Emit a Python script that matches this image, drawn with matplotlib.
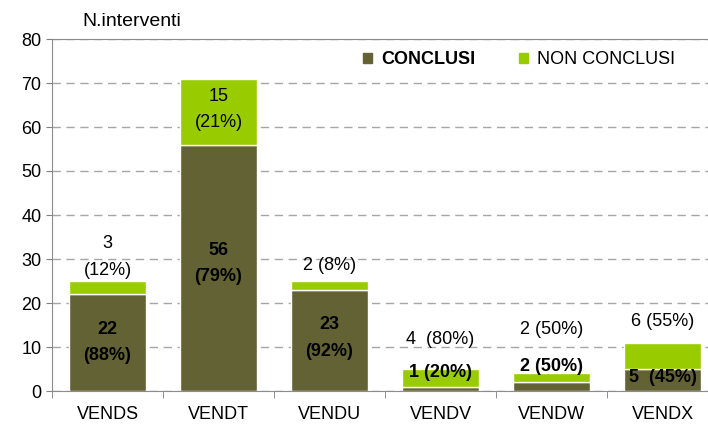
import numpy as np
import matplotlib.pyplot as plt
from matplotlib.patches import Patch

plt.rcParams['font.family'] = ['Liberation Sans', 'DejaVu Sans']

categories = ['VENDS', 'VENDT', 'VENDU', 'VENDV', 'VENDW', 'VENDX']
conclusi = [22, 56, 23, 1, 2, 5]
non_conclusi = [3, 15, 2, 4, 2, 6]

# label texts and the y where they sit
lab_conc = ['22\n(88%)', '56\n(79%)', '23\n(92%)', '1 (20%)', '2 (50%)', '5  (45%)']
lab_conc_y = [11, 29, 12, 4.1, 5.5, 3]
lab_non = ['3\n(12%)', '15\n(21%)', '2 (8%)', '4  (80%)', '2 (50%)', '6 (55%)']
lab_non_y = [30.5, 64, 28.6, 11.6, 13.9, 15.7]

dark = '#636234'
light = '#99cc00'
fs = 13

fig = plt.figure(figsize=(7.08, 4.26), dpi=100)
ax = fig.add_axes([52 / 708, 35 / 426, 666 / 708, 352 / 426])

x = np.arange(len(categories))
ax.bar(x, conclusi, width=0.7, color=dark, edgecolor='white', linewidth=1)
ax.bar(x, non_conclusi, bottom=conclusi, width=0.7, color=light, edgecolor='white', linewidth=1)

for i in range(len(categories)):
    ax.text(x[i], lab_conc_y[i], lab_conc[i], ha='center', va='center',
            fontsize=fs, fontweight='bold', linespacing=1.75)
    ax.text(x[i], lab_non_y[i], lab_non[i], ha='center', va='center',
            fontsize=fs, linespacing=1.75)

ax.set_xlim(-0.5, len(categories) - 0.5)
ax.set_ylim(0, 80)
ax.set_yticks(np.arange(0, 81, 10))
ax.set_xticks(x)
ax.set_xticklabels(categories)
ax.set_xticks(np.arange(-0.5, len(categories), 1), minor=True)
ax.tick_params(axis='x', which='major', direction='in', length=4, color='#808080', labelsize=fs, pad=11)
ax.tick_params(axis='x', which='minor', direction='out', length=5, color='#808080')
ax.tick_params(axis='y', direction='out', length=4, color='#808080', labelsize=fs)

ax.yaxis.grid(True, linestyle=(0, (6, 4)), color='#a6a6a6', linewidth=1)
ax.set_axisbelow(True)
for s in ['left', 'bottom', 'top']:
    ax.spines[s].set_color('#8c8c8c')
ax.spines['right'].set_visible(False)

fig.text(82 / 708, 1 - 22 / 426, 'N.interventi', fontsize=14, va='center')

handles = [Patch(color=dark), Patch(color=light)]
leg = ax.legend(handles, ['CONCLUSI', 'NON CONCLUSI'], ncol=2, frameon=False,
                loc='center left', bbox_to_anchor=(347 / 708, 1 - 60 / 426),
                bbox_transform=fig.transFigure, fontsize=fs,
                handlelength=0.5, handleheight=0.5, handletextpad=0.5, columnspacing=2.4)
leg.get_texts()[0].set_fontweight('bold')

fig.savefig('out.png', dpi=100)
